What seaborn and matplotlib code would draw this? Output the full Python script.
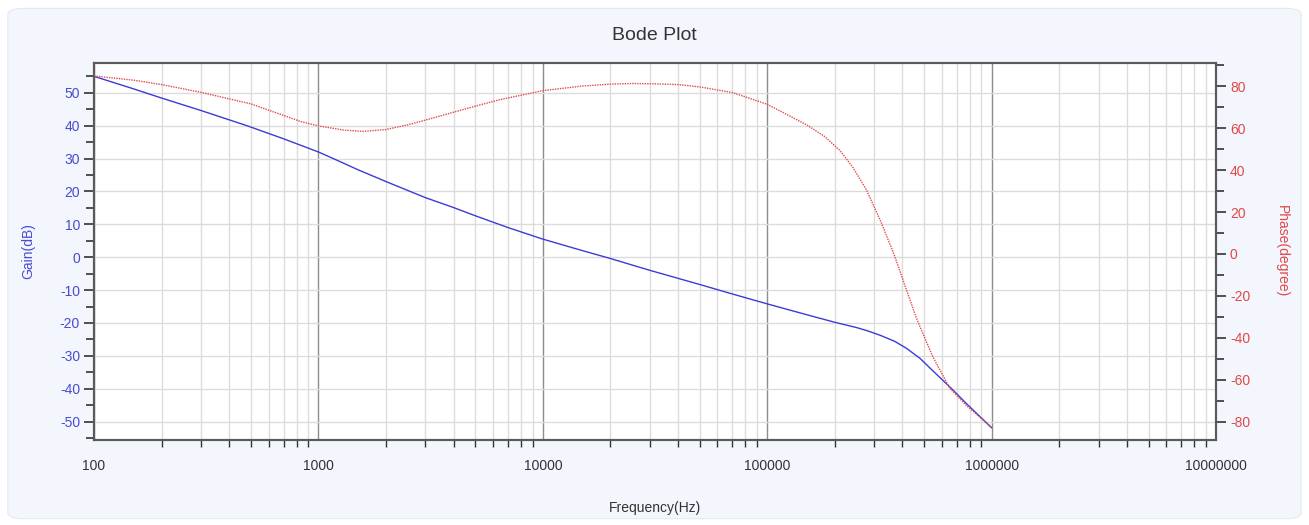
import numpy as np
import pandas as pd
import matplotlib
matplotlib.use("Agg")
import matplotlib.pyplot as plt
import matplotlib.ticker as mticker
from matplotlib.patches import FancyBboxPatch
import seaborn as sns

# ---- data ----
gain_freq = [100, 150, 200, 300, 480, 700, 1000, 1200, 1500, 2000, 3000, 4000,
             5000, 7000, 10000, 15000, 20000, 30000, 50000, 70000, 100000,
             150000, 200000, 250000, 280000, 320000, 370000, 417000, 480000, 546000,
             661000, 774000, 1000000]
gain_db = [55.0, 51.2, 48.4, 44.6, 40.0, 36.0, 32.0, 29.6, 26.6, 23.0, 18.1, 15.1,
           12.6, 9.0, 5.5, 2.0, -0.4, -4.0, -8.3, -11.2, -14.2,
           -17.5, -19.8, -21.4, -22.4, -23.8, -25.6, -27.7, -30.8, -34.5,
           -39.9, -44.6, -51.9]

phase_freq = [100, 150, 200, 300, 500, 600, 700, 828, 1000, 1300, 1585, 2000,
              2500, 3245, 5000, 6430, 10000, 15000, 20000, 25000, 30000, 40000,
              50000, 70000, 100000, 150000, 180000, 210000, 240000, 277000,
              322000, 370000, 417000, 462000, 546000, 650000, 774000, 1000000]
phase_deg = [84.8, 82.8, 80.7, 77.0, 71.5, 68.5, 66.0, 63.2, 61.0, 59.0, 58.4, 59.3,
             61.5, 64.8, 70.4, 73.5, 77.8, 80.0, 80.9, 81.2, 81.1, 80.7,
             79.6, 76.9, 71.3, 61.5, 56.0, 49.5, 41.5, 30.5,
             15.0, -1.1, -17.0, -30.5, -48.8, -63.9, -72.3, -82.6]

x_ticks = [100, 1000, 10000, 100000, 1000000, 10000000]
x_tick_labels = ["100", "1000", "10000", "100000", "1000000", "10000000"]
gain_ticks = [-50, -40, -30, -20, -10, 0, 10, 20, 30, 40, 50]
phase_ticks = [-80, -60, -40, -20, 0, 20, 40, 60, 80]

gain_df = pd.DataFrame({"freq": gain_freq, "gain": gain_db})
phase_df = pd.DataFrame({"freq": phase_freq, "phase": phase_deg})

# ---- styling ----
sns.set_theme(style="white")
plt.rcParams["font.family"] = ["Liberation Sans", "DejaVu Sans"]
plt.rcParams["axes.unicode_minus"] = False

BLUE = "#3b3bd6"
BLUE_TXT = "#4a4ad0"
RED = "#e04a4a"
RED_TXT = "#e04848"
GRID = "#dcdcdc"
MAJ_GRID = "#8c8c8c"
SPINE = "#5a5a5a"
BG = "#f3f6fd"

fig = plt.figure(figsize=(13.09, 5.25), dpi=100)
fig.patch.set_facecolor("white")
bg = FancyBboxPatch((0.006, 0.012), 0.988, 0.972,
                    boxstyle="round,pad=0,rounding_size=0.012",
                    transform=fig.transFigure, facecolor=BG,
                    edgecolor="#e4e8f0", linewidth=0.8, zorder=-10)
fig.patches.append(bg)

ax = fig.add_axes([0.0718, 0.1619, 0.8572, 0.7190])
ax.set_facecolor("white")
ax2 = ax.twinx()

sns.lineplot(data=gain_df, x="freq", y="gain", ax=ax, color=BLUE,
             linewidth=1.0, zorder=3)
sns.lineplot(data=phase_df, x="freq", y="phase", ax=ax2, color=RED,
             linewidth=1.0, linestyle=(0, (1, 0.8)), zorder=3)

ax.set_xscale("log")
ax.set_xlim(100, 10000000)
ax.set_ylim(-55.6, 59.2)
ax2.set_ylim(-88.6, 91.2)

# x ticks
ax.xaxis.set_major_locator(mticker.FixedLocator(x_ticks))
ax.xaxis.set_major_formatter(mticker.FixedFormatter(x_tick_labels))
ax.xaxis.set_minor_locator(mticker.LogLocator(base=10, subs=np.arange(2, 10)))
ax.xaxis.set_minor_formatter(mticker.NullFormatter())
ax.tick_params(axis="x", which="major", direction="out", length=9, width=2,
               color="#222222", labelsize=10, labelcolor="#333333", pad=5)
ax.tick_params(axis="x", which="minor", direction="out", length=5, width=1,
               color="#333333", bottom=True)

# gain ticks
ax.set_yticks(gain_ticks)
ax.yaxis.set_minor_locator(mticker.MultipleLocator(5))
ax.tick_params(axis="y", which="major", direction="out", length=7, width=1.2,
               color="#333333", labelsize=10, labelcolor=BLUE_TXT, pad=3, left=True)
ax.tick_params(axis="y", which="minor", direction="out", length=6, width=1.2,
               color="#333333", left=True)

# phase ticks
ax2.set_yticks(phase_ticks)
ax2.yaxis.set_minor_locator(mticker.MultipleLocator(10))
ax2.tick_params(axis="y", which="major", direction="out", length=7, width=1.2,
                color="#333333", labelsize=10, labelcolor=RED_TXT, pad=3, right=True)
ax2.tick_params(axis="y", which="minor", direction="out", length=6, width=1.2,
                color="#333333", right=True)

# grid
ax.grid(True, which="minor", axis="x", color=GRID, linewidth=1.0, zorder=0)
ax.grid(True, which="major", axis="y", color=GRID, linewidth=1.0, zorder=0)
ax.grid(True, which="major", axis="x", color=MAJ_GRID, linewidth=1.0, zorder=0)
ax2.grid(False)
ax.set_axisbelow(True)

for a in (ax, ax2):
    for s in a.spines.values():
        s.set_color(SPINE)
        s.set_linewidth(1.5)

ax.set_xlabel("Frequency(Hz)", fontsize=10, color="#333333", labelpad=20)
ax.set_ylabel("Gain(dB)", fontsize=10, color=BLUE_TXT, labelpad=18)
ax2.set_ylabel("Phase(degree)", fontsize=10, color=RED_TXT, rotation=270,
               labelpad=28)
fig.text(0.5, 0.933, "Bode Plot", ha="center", va="center", fontsize=14,
         color="#333333")

fig.savefig("out.png", dpi=100, facecolor=fig.get_facecolor())
